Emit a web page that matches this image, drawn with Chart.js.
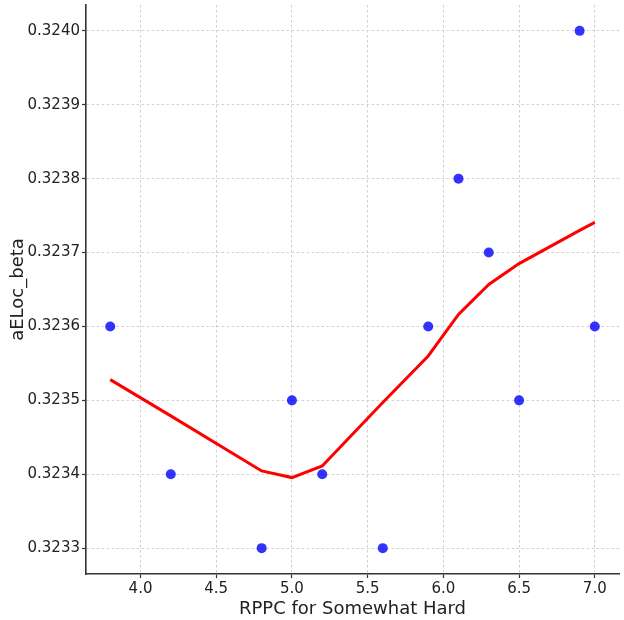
<!DOCTYPE html>
<html>
<head>
<meta charset="utf-8">
<script src="https://cdn.jsdelivr.net/npm/chart.js@4/dist/chart.umd.min.js"></script>
<style>
  html, body { margin: 0; padding: 0; background: #fff; }
  #wrap { width: 624px; height: 620px; }
</style>
</head>
<body>
<div id="wrap"><canvas id="c" width="624" height="620"></canvas></div>
<script>
// Scatter observations
const pointX = [3.8, 4.2, 4.8, 5.0, 5.2, 5.6, 5.9, 6.1, 6.3, 6.5, 6.9, 7.0];
const pointY = [0.3236, 0.3234, 0.3233, 0.3235, 0.3234, 0.3233, 0.3236, 0.3238, 0.3237, 0.3235, 0.3240, 0.3236];
// Smoothed (LOWESS) curve
const curveX = [3.8, 4.2, 4.8, 5.0, 5.2, 5.6, 5.9, 6.1, 6.3, 6.5, 6.9, 7.0];
const curveY = [0.323528, 0.323479, 0.3234045, 0.3233955, 0.3234112, 0.323497, 0.32356, 0.3236162, 0.3236568, 0.3236851, 0.32373, 0.3237409];
// Tick labels
const xTicks = [4.0, 4.5, 5.0, 5.5, 6.0, 6.5, 7.0];
const yTicks = [0.3233, 0.3234, 0.3235, 0.3236, 0.3237, 0.3238, 0.3239, 0.3240];

const FONT = 'DejaVu Sans';
const scatterData = pointX.map((x, i) => ({ x: x, y: pointY[i] }));
const curveData = curveX.map((x, i) => ({ x: x, y: curveY[i] }));

new Chart(document.getElementById('c'), {
  type: 'scatter',
  data: {
    datasets: [
      {
        type: 'line',
        data: curveData,
        borderColor: '#ff0000',
        borderWidth: 3,
        pointRadius: 0,
        fill: false,
        tension: 0
      },
      {
        type: 'scatter',
        data: scatterData,
        backgroundColor: 'rgba(0,0,255,0.8)',
        borderColor: 'rgba(0,0,255,0.8)',
        borderWidth: 0,
        pointRadius: 5
      }
    ]
  },
  options: {
    responsive: false,
    animation: false,
    layout: { padding: { top: 5, right: 5, left: 0, bottom: 0 } },
    plugins: { legend: { display: false }, tooltip: { enabled: false } },
    scales: {
      x: {
        type: 'linear',
        min: 3.64,
        max: 7.16,
        afterBuildTicks: s => { s.ticks = xTicks.map(v => ({ value: v })); },
        afterFit: s => { s.height = 46; s.paddingLeft = 0; s.paddingRight = 0; },
        ticks: {
          callback: v => Number(v).toFixed(1),
          color: '#222',
          font: { family: FONT, size: 15 },
          padding: 2,
          maxRotation: 0
        },
        grid: {
          color: '#d0d0d0',
          lineWidth: 1,
          tickLength: 4,
          tickColor: '#333',
          tickWidth: 1.2
        },
        border: { display: true, color: '#333', width: 1.6, dash: [2.5, 2.5] },
        title: {
          display: true,
          text: 'RPPC for Somewhat Hard',
          color: '#222',
          font: { family: FONT, size: 18 },
          padding: { top: 0, bottom: 0 }
        }
      },
      y: {
        type: 'linear',
        min: 0.323265,
        max: 0.324035,
        afterBuildTicks: s => { s.ticks = yTicks.map(v => ({ value: v })); },
        afterFit: s => { s.width = 86; s.paddingTop = 0; s.paddingBottom = 0; },
        ticks: {
          callback: v => Number(v).toFixed(4),
          color: '#222',
          font: { family: FONT, size: 15 },
          padding: 2
        },
        grid: {
          color: '#d0d0d0',
          lineWidth: 1,
          tickLength: 4,
          tickColor: '#333',
          tickWidth: 1.2
        },
        border: { display: true, color: '#333', width: 1.6, dash: [2.5, 2.5] },
        title: {
          display: true,
          text: 'aELoc_beta',
          color: '#222',
          font: { family: FONT, size: 18 },
          padding: { top: 8, bottom: 8 }
        }
      }
    }
  }
});
</script>
</body>
</html>
